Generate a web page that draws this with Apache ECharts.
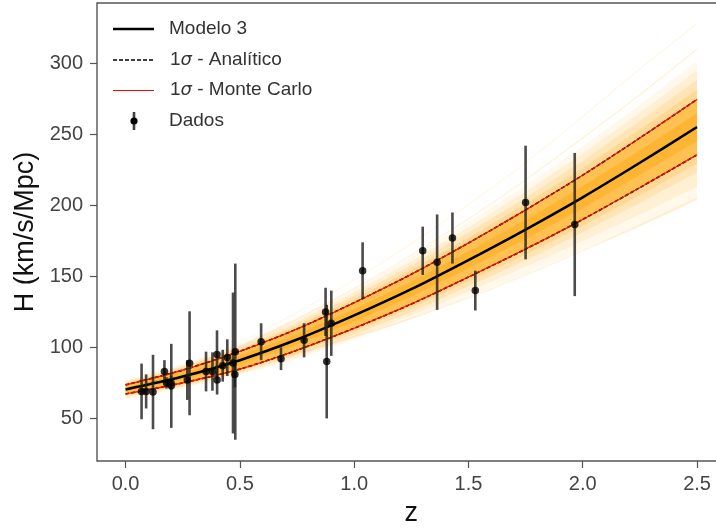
<!DOCTYPE html>
<html>
<head>
<meta charset="utf-8">
<script src="https://cdn.jsdelivr.net/npm/echarts@6/dist/echarts.min.js"></script>
<style>html,body{margin:0;padding:0;background:#fff}#c{width:716px;height:528px}</style>
</head>
<body>
<div id="c"></div>
<script>
// ---- data ----
const zData = [0.07,0.09,0.12,0.17,0.179,0.199,0.2,0.27,0.28,0.352,0.38,0.4,0.4004,0.425,0.445,0.47,0.4783,0.48,0.593,0.68,0.781,0.875,0.88,0.9,1.037,1.3,1.363,1.43,1.53,1.75,1.965];
const hData = [69,69,68.6,83,75,75,72.9,77,88.8,83,83,95,77,87.1,92.8,89,80.9,97,104,92,105,125,90,117,154,168,160,177,140,202,186.5];
const sigData = [19.6,12,26.2,8,4,5,29.6,14,36.6,14,13.5,17,10.2,11.2,12.9,49.6,9,62,13,8,12,17,40,23,20,17,33.6,18,14,40,50.4];

const zGrid = [0,0.25,0.5,0.75,1.0,1.25,1.5,1.75,2.0,2.25,2.5];
const hModel = [70.4,79.5,91.0,105.5,122.5,141.0,161.5,183.0,205.7,230.0,255.2];
const hSigUp = [73.6,84.0,97.3,113.0,131.5,151.5,173.5,196.8,221.3,247.5,274.6];
const hSigLo = [67.2,75.0,84.7,98.0,113.5,130.5,149.5,169.2,190.1,212.5,235.6];
// Monte Carlo fan envelopes (outer to inner)
const mcOuterHi = [77.4,88.2,102.4,120.3,140.9,163.6,188.1,214.1,241.7,270.9,301.9];
const mcOuterLo = [63.4,71.2,80.5,91.8,105.4,119.9,135.7,151.9,168.7,185.2,202.9];
const mcOuter2Hi = [76.4,87.3,101.3,118.6,138.8,160.6,184.5,209.7,236.6,265.2,295.2];
const mcOuter2Lo = [64.5,72.0,81.5,93.1,107.2,122.5,139.3,156.7,174.9,193.5,213.1];
const mcMidHi = [75.3,86.3,100.1,116.9,136.6,157.6,180.9,205.3,231.4,259.4,288.4];
const mcMidLo = [65.5,72.7,82.4,94.4,109.0,125.1,142.9,161.4,181.0,201.7,223.3];
const mcInnerHi = [74.5,85.2,98.7,115.0,134.1,154.6,177.2,201.1,226.4,253.5,281.5];
const mcInnerLo = [66.4,73.9,83.6,96.2,111.3,127.8,146.2,165.3,185.6,207.1,229.5];
const mcCoreHi = [72.0,81.8,94.2,109.3,127.0,146.3,167.5,189.9,213.5,238.8,264.9];
const mcCoreLo = [68.8,77.3,87.9,101.8,118.0,135.8,155.5,176.1,197.9,221.3,245.4];
// a few stray Monte Carlo curves
const mcLineA = [69.0,83.5,103.5,124.5,147.5,173.0,200.5,230.0,262.5,296.0,328.0];
const mcLineB = [70.5,83.0,100.5,120.0,141.5,165.0,190.5,218.0,247.5,278.0,310.0];
const mcLineC = [73.5,79.0,86.5,96.0,107.5,120.5,135.0,151.0,168.0,186.0,205.0];

const xTicks = [0,0.5,1.0,1.5,2.0,2.5];
const yTicks = [50,100,150,200,250,300];

// ---- build options ----
const pairs = arr => zGrid.map((z,i)=>[z,arr[i]]);
const SM = 0.3;
function band(lo, hi, color){
  return {type:'custom', silent:true, z:1,
    data: zGrid.map((z,i)=>[z, lo[i], hi[i]]), encode:{x:0, y:[1,2]},
    renderItem:(params, api)=>{
      if (params.dataIndex !== 0) return null;
      const pts = [];
      zGrid.forEach((z,i)=>pts.push(api.coord([z,hi[i]])));
      for (let i=zGrid.length-1;i>=0;i--) pts.push(api.coord([zGrid[i],lo[i]]));
      return {type:'polygon', shape:{points:pts}, style:{fill:color, stroke:null}};
    }};
}
function thin(arr, color){
  return {type:'line', data: pairs(arr), symbol:'none', smooth:SM, lineStyle:{color:color, width:1.5}, silent:true, z:1};
}

const series = [
  band(mcOuterLo, mcOuterHi, 'rgba(255,165,0,0.08)'),
  band(mcOuter2Lo, mcOuter2Hi, 'rgba(255,165,0,0.10)'),
  band(mcMidLo, mcMidHi, 'rgba(255,165,0,0.14)'),
  band(mcInnerLo, mcInnerHi, 'rgba(255,165,0,0.18)'),
  band(hSigLo, hSigUp, 'rgba(255,165,0,0.45)'),
  band(mcCoreLo, mcCoreHi, 'rgba(255,160,0,0.35)'),
  thin(mcLineA,'rgba(255,165,0,0.08)'), thin(mcLineB,'rgba(255,165,0,0.12)'), thin(mcLineC,'rgba(255,165,0,0.12)'),
  {name:'1σ - Analítico', type:'line', data:pairs(hSigUp), symbol:'none', smooth:SM, lineStyle:{color:'#000', width:1.6, type:[4,2]}, z:2},
  {type:'line', data:pairs(hSigLo), symbol:'none', smooth:SM, lineStyle:{color:'#000', width:1.6, type:[4,2]}, z:2},
  {name:'1σ - Monte Carlo', type:'line', data:pairs(hSigUp), symbol:'none', smooth:SM, lineStyle:{color:'#ff1000', width:1.1}, z:3},
  {type:'line', data:pairs(hSigLo), symbol:'none', smooth:SM, lineStyle:{color:'#ff1000', width:1.1}, z:3},
  {name:'Modelo 3', type:'line', data:pairs(hModel), symbol:'none', smooth:SM, lineStyle:{color:'#000', width:2.6}, z:4},
  {name:'Dados', type:'custom', z:5,
   data: zData.map((z,i)=>[z,hData[i],sigData[i]]),
   encode:{x:0, y:[1]},
   renderItem:(params, api)=>{
     const x=api.value(0), y=api.value(1), s=api.value(2);
     const p1=api.coord([x,y-s]), p2=api.coord([x,y+s]);
     return {type:'line', shape:{x1:p1[0],y1:p1[1],x2:p2[0],y2:p2[1]},
             style:{stroke:'rgba(30,30,30,0.8)', lineWidth:2.6}};
   }},
  {type:'scatter', z:6, data: zData.map((z,i)=>[z,hData[i]]), symbolSize:7.5, itemStyle:{color:'#000'}}
];

const tickColor = '#444';
const FONT = 'Liberation Sans';
const lx1 = 113, lx2 = 154, tx = 169;
const rows = [29, 60, 90, 121];
const legendText = {fontFamily:FONT, fontSize:19, fill:'#333', verticalAlign:'middle', align:'left',
  rich:{i:{fontFamily:'DejaVu Sans', fontStyle:'italic', fontSize:18, fill:'#333'}}};

const option = {
  animation:false,
  backgroundColor:'#fff',
  grid:{left:97, top:3, right:-9.6, bottom:67, outerBoundsMode:'none', containLabel:false,
        show:true, borderColor:'#555', borderWidth:1.4, backgroundColor:'transparent'},
  xAxis:{type:'value', min:-0.125, max:2.625,
    axisLine:{show:false, onZero:false},
    axisTick:{show:true, inside:false, length:7, lineStyle:{color:'#555', width:1.2}, customValues:xTicks},
    axisLabel:{customValues:xTicks, color:tickColor, fontFamily:FONT, fontSize:20, margin:13, formatter:v=>v.toFixed(1)},
    splitLine:{show:false},
    name:'z', nameLocation:'middle', nameGap:39, nameTextStyle:{color:'#111', fontFamily:FONT, fontSize:27}
  },
  yAxis:{type:'value', min:20, max:342.5,
    axisLine:{show:false, onZero:false},
    axisTick:{show:true, inside:false, length:7, lineStyle:{color:'#555', width:1.2}, customValues:yTicks},
    axisLabel:{customValues:yTicks, color:tickColor, fontFamily:FONT, fontSize:20, margin:14},
    splitLine:{show:false},
    name:'H (km/s/Mpc)', nameLocation:'middle', nameRotate:90, nameGap:57,
    nameTextStyle:{color:'#111', fontFamily:FONT, fontSize:27}
  },
  series: series,
  graphic:[
    {type:'line', shape:{x1:lx1,y1:rows[0],x2:lx2,y2:rows[0]}, style:{stroke:'#000', lineWidth:2.6}, z:10},
    {type:'line', shape:{x1:lx1,y1:rows[1],x2:lx2,y2:rows[1]}, style:{stroke:'#000', lineWidth:1.3, lineDash:[4,2]}, z:10},
    {type:'line', shape:{x1:lx1,y1:rows[2]+0.5,x2:lx2,y2:rows[2]+0.5}, style:{stroke:'#ff0000', lineWidth:1.2}, z:10},
    {type:'line', shape:{x1:134,y1:rows[3]-9,x2:134,y2:rows[3]+9}, style:{stroke:'rgba(30,30,30,0.85)', lineWidth:2.6}, z:10},
    {type:'circle', shape:{cx:134, cy:rows[3], r:3.6}, style:{fill:'#000'}, z:11},
    {type:'text', x:tx, y:rows[0], style:Object.assign({}, legendText, {text:'Modelo 3'}), z:10},
    {type:'text', x:tx+1, y:rows[1], style:Object.assign({}, legendText, {text:'1{i|σ} - Analítico'}), z:10},
    {type:'text', x:tx+1, y:rows[2], style:Object.assign({}, legendText, {text:'1{i|σ} - Monte Carlo'}), z:10},
    {type:'text', x:tx, y:rows[3], style:Object.assign({}, legendText, {text:'Dados'}), z:10}
  ]
};
const chart = echarts.init(document.getElementById('c'), null, {renderer:'canvas'});
chart.setOption(option);
</script>
</body>
</html>
